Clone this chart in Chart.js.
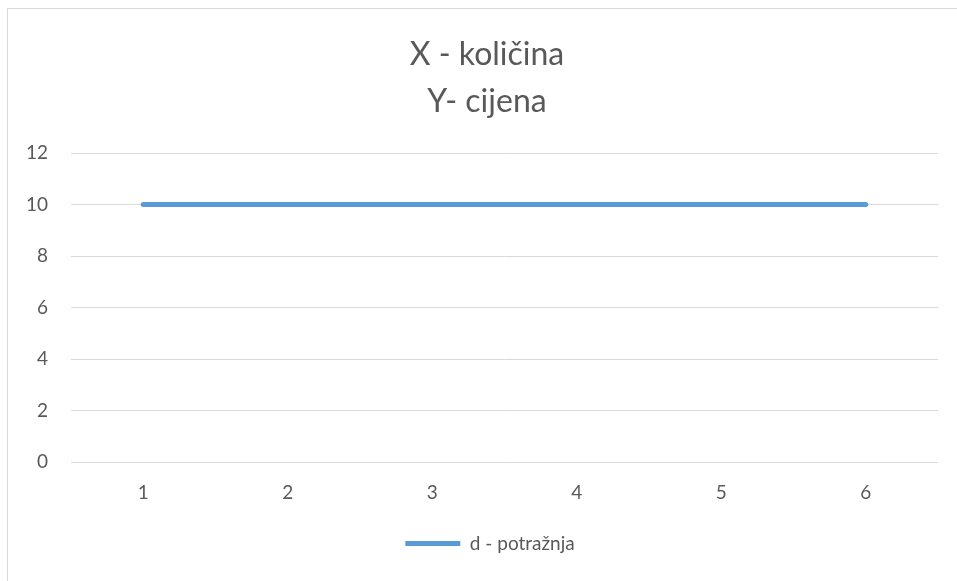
<!DOCTYPE html>
<html>
<head>
<meta charset="utf-8">
<script src="https://cdn.jsdelivr.net/npm/chart.js@4/dist/chart.umd.min.js"></script>
<style>
  body { margin: 0; background: #fff; overflow: hidden; }
  #frame { position: absolute; left: 7px; top: 8px; width: 960px; height: 590px; border: 1px solid #d9d9d9; }
</style>
</head>
<body>
<div id="frame"><canvas id="demand_chart" width="949" height="572"></canvas></div>
<script>
// X - quantity, Y - price
var categories = ["1", "2", "3", "4", "5", "6"];
var demandValues = [10, 10, 10, 10, 10, 10];
var titleLines = ["X - količina", "Y- cijena"];
var seriesName = "d - potražnja";

// nudge title and legend right a little, like the original sheet
var centerNudge = {
    id: 'centerNudge',
    afterLayout: function (chart) {
        chart.legend.left += 17;
        chart.legend.right += 17;
        chart.titleBlock.left += 14;
        chart.titleBlock.right += 14;
    }
};

new Chart(document.getElementById('demand_chart'), {
    type: 'line',
    data: {
        labels: categories,
        datasets: [{
            label: seriesName,
            data: demandValues,
            borderColor: "#5b9bd5",
            backgroundColor: "#5b9bd5",
            borderWidth: 5,
            borderCapStyle: 'round',
            pointRadius: 0,
            tension: 0
        }]
    },
    options: {
        responsive: false,
        animation: false,
        layout: { padding: { left: 0, right: 19, top: 0, bottom: 18 } },
        plugins: {
            title: {
                display: true,
                text: titleLines,
                color: "#595959",
                font: { family: "Lato", size: 32, weight: 'normal', lineHeight: 1.47 },
                padding: { top: 22, bottom: 28 }
            },
            legend: {
                position: 'bottom',
                labels: {
                    color: "#595959",
                    font: { family: "Lato", size: 19 },
                    usePointStyle: true,
                    pointStyle: 'line',
                    pointStyleWidth: 55,
                    boxHeight: 5,
                    padding: 10
                }
            },
            tooltip: { enabled: false }
        },
        scales: {
            x: {
                offset: true,
                grid: { display: false },
                border: { display: false },
                ticks: { color: "#595959", font: { family: "Lato", size: 19 }, padding: 11 },
                afterFit: function (scale) { scale.height = 62; }
            },
            y: {
                min: 0,
                max: 12,
                ticks: { stepSize: 2, color: "#595959", font: { family: "Lato", size: 19 }, padding: 23 },
                grid: { color: "#d9d9d9", lineWidth: 1, drawTicks: false },
                border: { display: false },
                afterFit: function (scale) { scale.width = 63; }
            }
        }
    },
    plugins: [centerNudge]
});
</script>
</body>
</html>
